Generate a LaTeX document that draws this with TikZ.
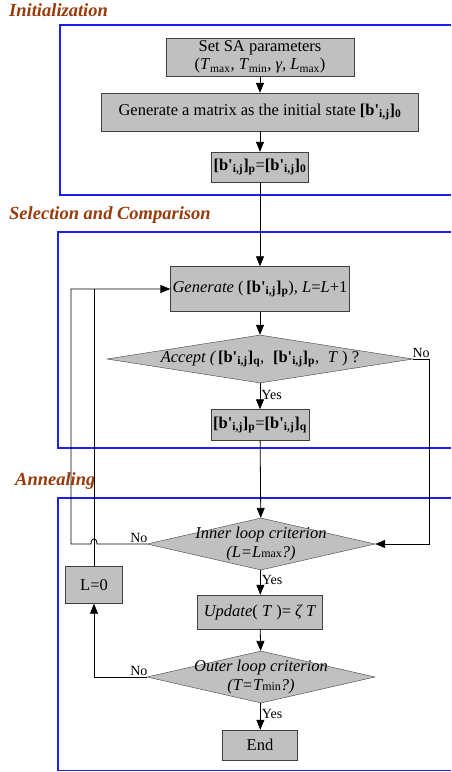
\documentclass[tikz,border=0pt]{standalone}
\usepackage{fontspec}
\setmainfont{Liberation Serif}
\usetikzlibrary{arrows.meta,positioning,shapes.geometric}
\definecolor{cframe}{HTML}{1E1EF0}
\definecolor{ctitle}{HTML}{9A3A0A}
\definecolor{cbox}{HTML}{C0C0C0}
\newcommand{\bij}[1]{\textbf{[b\textquotesingle\textsubscript{i,j}]\textsubscript{#1}}}
\tikzset{
  blk/.style={draw=black!75, fill=cbox, inner sep=2pt, font=\fontsize{16.5}{18.5}\selectfont, align=center},
  dia/.style={diamond, draw=black!75, fill=cbox, inner sep=0pt, aspect=4},
  dtxt/.style={font=\fontsize{16.5}{18.5}\selectfont\itshape, align=center, inner sep=0pt},
  sec/.style={anchor=west, inner sep=0pt, font=\fontsize{18.5}{20}\selectfont\bfseries\itshape, text=ctitle},
  frame/.style={draw=cframe, line width=1.2pt},
  flow/.style={-{Triangle[length=10pt,width=8pt]}, line width=0.8pt},
  link/.style={line width=0.8pt},
  yn/.style={font=\fontsize{14}{15}\selectfont, inner sep=1pt},
}

\begin{document}
\begin{tikzpicture}[x=1pt,y=-1pt]
\useasboundingbox[fill=white] (0,0) rectangle (451,772);
% stage frames, open on the right
\draw[frame] (451,25) -| (60,195) -- (451,195);
\draw[frame] (451,232) -| (58,448) -- (451,448);
\draw[frame] (451,498) -| (58,770.5) -- (451,770.5);
\node[sec] (tinit) at (9,10) {Initialization};
\node[sec] (tsel) at (9,215) {Selection and Comparison};
\node[sec] (tann) at (15,481) {Annealing};
% initialization
\node[blk, minimum width=188, minimum height=38] (set) at (260,57)
  {Set SA parameters\\(\textit{T}\textsubscript{max}, \textit{T}\textsubscript{min}, \textit{γ}, \textit{L}\textsubscript{max})};
\node[blk, minimum width=317, minimum height=38] (init) at (260,112)
  {Generate a matrix as the initial state \bij{0}};
\node[blk, minimum width=94, minimum height=30] (p0) at (260,167) {\bij{p}=\bij{0}};
% selection and comparison
\node[blk, minimum width=177, minimum height=45] (gen) at (260,289)
  {\textit{Generate} (\,\bij{p}), \textit{L}=\textit{L}+1};
\node[dia, minimum width=306, minimum height=48,
  label={[dtxt]center:\textit{Accept} (\,\upshape\bij{q},\; \bij{p},\; \textit{T} ) ?}] (acc) at (260,359) {};
\node[blk, minimum width=93, minimum height=31] (pq) at (260,425) {\bij{p}=\bij{q}};
% annealing
\node[dia, minimum width=228, minimum height=52,
  label={[dtxt]center:Inner loop criterion\\(\textit{L}=\textit{L}{\upshape\fontsize{12}{12}\selectfont max}?)}] (inner) at (261,544) {};
\node[blk, minimum width=125, minimum height=34] (upd) at (260,612)
  {\textit{Update}( \textit{T} )= \textit{ζ T}};
\node[dia, minimum width=228, minimum height=52,
  label={[dtxt]center:Outer loop criterion\\(\textit{T}=\textit{T}{\upshape\fontsize{12}{12}\selectfont min}?)}] (outer) at (261,677) {};
\node[blk, minimum width=75, minimum height=30] (end) at (260,745) {End};
\node[blk, minimum width=57, minimum height=37] (l0) at (94,585) {L=0};
\coordinate (accr) at (429,359);
\coordinate (back) at (71,289);
\coordinate (join) at (94,289);
% main flow
\draw[flow] (set) -- (init);
\draw[flow] (init) -- (p0);
\draw[flow] (p0) -- (gen);
\draw[flow] (gen) -- (acc);
\draw[flow] (acc) -- node[yn, right, pos=0.45] {Yes} (pq);
\draw[flow] (pq) -- (inner);
\draw[flow] (inner) -- node[yn, right, pos=0.4] {Yes} (upd);
\draw[flow] (upd) -- (outer);
\draw[flow] (outer) -- node[yn, right, pos=0.4] {Yes} (end);
% loops
\draw[flow] (acc.east) node[yn, above right, xshift=-2pt] {No} -- (accr) |- (inner.east);
\draw[flow] (inner.west) node[yn, above left, xshift=2pt] {No} -- (97,544)
  .. controls (97,537) and (91,537) .. (91,544) -- (71,544) -- (back) -- (gen.west);
\draw[link] (l0.north) -- (join);
\draw[flow] (outer.west) node[yn, above left, xshift=2pt] {No} -| (l0.south);
\end{tikzpicture}
\end{document}
